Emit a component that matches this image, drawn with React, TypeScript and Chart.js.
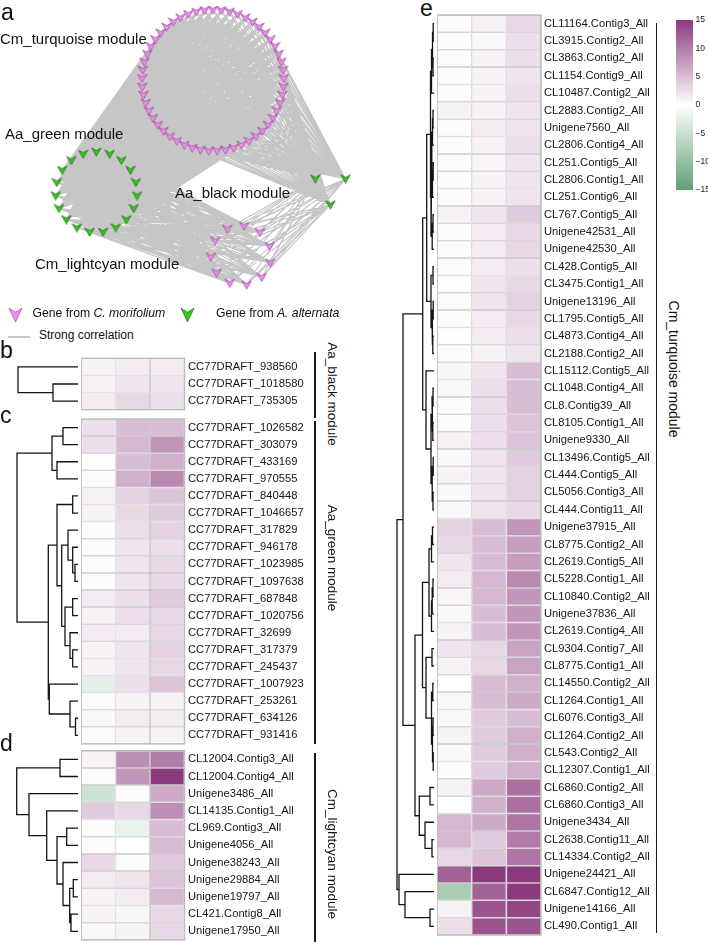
import React, { useEffect, useRef } from "react";
import { Chart, registerables } from "chart.js";
Chart.register(...registerables);

const FONT = "'Liberation Sans', Arial, Helvetica, sans-serif";

// ------------------------------------------------------------------ data
// panel b : Aa_black module
const bGenes = ["CC77DRAFT_938560", "CC77DRAFT_1018580", "CC77DRAFT_735305"];
const bValues = [
  [1, 1.5, 1.5],
  [1, 2, 2],
  [1.5, 3, 2.5],
];
// hclust-style merges: negative = leaf (1-based), positive = earlier merge, third = height
const bTree = [
  [-2, -3, 25],
  [-1, 1, 60],
];

// panel c : Aa_green module
const cGenes = [
  "CC77DRAFT_1026582", "CC77DRAFT_303079", "CC77DRAFT_433169", "CC77DRAFT_970555",
  "CC77DRAFT_840448", "CC77DRAFT_1046657", "CC77DRAFT_317829", "CC77DRAFT_946178",
  "CC77DRAFT_1023985", "CC77DRAFT_1097638", "CC77DRAFT_687848", "CC77DRAFT_1020756",
  "CC77DRAFT_32699", "CC77DRAFT_317379", "CC77DRAFT_245437", "CC77DRAFT_1007923",
  "CC77DRAFT_253261", "CC77DRAFT_634126", "CC77DRAFT_931416",
];
const cValues = [
  [2.5, 5, 5], [2.5, 5.5, 8], [-0.3, 5, 6], [0.3, 6, 9], [1, 3.5, 4.5], [1, 3, 4],
  [0.3, 2.5, 3.5], [0.3, 2, 2.5], [0.3, 2, 3], [0.3, 2, 3], [1.5, 2.5, 4], [1, 2.5, 3],
  [1.5, 1.5, 3], [1, 2, 3.5], [1, 2, 3], [-2.5, 2.5, 4.5], [0.3, 1, 1], [0.5, 1.5, 1.5],
  [0.3, 1, 1],
];
const cTree = [
  [-1, -2, 15], [-3, -4, 21], [1, 2, 26], [-5, -6, 5.3], [-9, -10, 3], [-8, 5, 5.3],
  [-7, 6, 10], [-11, -12, 5.3], [-14, -15, 5.3], [-13, 9, 8], [8, 10, 13], [7, 11, 16.3],
  [4, 12, 21], [-18, -19, 2.5], [-17, 14, 8], [-16, 15, 28.7], [13, 16, 29.7], [3, 17, 61],
];

// panel d : Cm_lightcyan module
const dGenes = [
  "CL12004.Contig3_All", "CL12004.Contig4_All", "Unigene3486_All", "CL14135.Contig1_All",
  "CL969.Contig3_All", "Unigene4056_All", "Unigene38243_All", "Unigene29884_All",
  "Unigene19797_All", "CL421.Contig8_All", "Unigene17950_All",
];
const dValues = [
  [1, 8.5, 10], [0.3, 8, 15], [-4.5, 0.3, 6.5], [4, 3, 8.5], [0.3, -2, 5], [0.3, 0, 5],
  [3, -0.5, 4], [1.5, 2, 4.5], [1, 1.5, 5.5], [1, -1, 3], [0.5, 1, 3],
];
const dTree = [
  [-1, -2, 18], [-5, -6, 11.3], [-8, -9, 4.7], [-10, -11, 7], [3, 4, 8.3], [-7, 5, 15],
  [2, 6, 21], [-4, 7, 31.3], [-3, 8, 49], [1, 9, 61.3],
];

// panel e : Cm_turquoise module
const eGenes = [
  "CL11164.Contig3_All", "CL3915.Contig2_All", "CL3863.Contig2_All", "CL1154.Contig9_All",
  "CL10487.Contig2_All", "CL2883.Contig2_All", "Unigene7560_All", "CL2806.Contig4_All",
  "CL251.Contig5_All", "CL2806.Contig1_All", "CL251.Contig6_All", "CL767.Contig5_All",
  "Unigene42531_All", "Unigene42530_All", "CL428.Contig5_All", "CL3475.Contig1_All",
  "Unigene13196_All", "CL1795.Contig5_All", "CL4873.Contig4_All", "CL2188.Contig2_All",
  "CL15112.Contig5_All", "CL1048.Contig4_All", "CL8.Contig39_All", "CL8105.Contig1_All",
  "Unigene9330_All", "CL13496.Contig5_All", "CL444.Contig5_All", "CL5056.Contig3_All",
  "CL444.Contig11_All", "Unigene37915_All", "CL8775.Contig2_All", "CL2619.Contig5_All",
  "CL5228.Contig1_All", "CL10840.Contig2_All", "Unigene37836_All", "CL2619.Contig4_All",
  "CL9304.Contig7_All", "CL8775.Contig1_All", "CL14550.Contig2_All", "CL1264.Contig1_All",
  "CL6076.Contig3_All", "CL1264.Contig2_All", "CL543.Contig2_All", "CL12307.Contig1_All",
  "CL6860.Contig2_All", "CL6860.Contig3_All", "Unigene3434_All", "CL2638.Contig11_All",
  "CL14334.Contig2_All", "Unigene24421_All", "CL6847.Contig12_All", "Unigene14166_All",
  "CL490.Contig1_All",
];
const eValues = [
  [0.3, 1, 3], [0.3, 0.5, 2.5], [0.3, 1, 2.5], [0.3, 1, 2], [0.3, 1, 2.5], [1, 1, 2],
  [0.3, 1.5, 2], [0.3, 1, 2.5], [0.3, 0.8, 2], [0.3, 1, 2], [0.3, 1, 2], [1, 2, 4],
  [0.3, 1.5, 3], [0.3, 1.5, 3], [0.3, 1.5, 2.5], [-0.3, 2, 3], [-0.5, 2, 3.5], [-0.5, 1.5, 3],
  [-0.3, 1.5, 2.5], [0.3, 1, 2], [-1, 2, 5], [0.5, 2.5, 5], [0.3, 2.5, 5], [0.3, 2.5, 4.5],
  [1, 2.5, 4.5], [0.5, 2, 4], [1, 2, 3.5], [0.5, 2, 3.5], [0.5, 2, 3], [3.5, 5, 8],
  [3, 5, 7.5], [2, 5, 7.5], [1.5, 5.5, 9], [0.8, 5.5, 8], [0.5, 5, 8], [1, 5, 8],
  [2, 3, 7], [1, 3, 7], [0, 5, 6], [0.5, 5, 6.5], [0.5, 4, 5], [1, 4, 6],
  [0.5, 4, 6], [0.3, 4, 6], [1, 6.5, 11], [0, 6, 11], [5.5, 6.5, 10.5], [5.5, 4, 10],
  [3, 4.5, 10.5], [12, 15, 15], [-8, 12, 15], [1, 13, 14], [2.5, 13, 13],
];
const eTree = [
  [-1, -2, 0.8], [-3, -4, 1.0], [1, 2, 1.5], [3, -5, 2.5],
  [-6, -7, 1.0], [5, -8, 1.5], [-9, -10, 0.8], [7, -11, 1.5], [6, 8, 2.2],
  [-12, -13, 1.0], [10, -14, 1.8], [9, 11, 3.0], [4, 12, 3.5],
  [-15, -16, 1.0], [-17, -18, 0.8], [-19, -20, 1.2], [15, 16, 2.0], [14, 17, 3.0], [13, 18, 7.3],
  [-22, -23, 1.0], [-24, -25, 1.2], [20, 21, 2.0], [-26, -27, 0.8], [-28, -29, 1.0], [23, 24, 1.8],
  [22, 25, 3.0], [-21, 26, 8.0], [19, 27, 11.3],
  [-30, -31, 1.5], [29, -32, 2.5], [-33, -34, 1.0], [31, -35, 1.8], [32, -36, 2.5], [30, 33, 5.0],
  [-37, -38, 2.0], [-39, -40, 1.2], [-41, -42, 1.0], [-43, -44, 0.8], [37, 38, 1.5], [36, 39, 2.5],
  [35, 40, 8.0], [34, 41, 11.5],
  [-45, -46, 4.0], [-48, -49, 2.0], [-47, 44, 9.0], [43, 45, 14.7], [42, 46, 19.0], [28, 47, 31.0],
  [-52, -53, 4.0], [-51, 49, 29.0], [-50, 50, 35.0], [48, 51, 37.0],
];

// colour key
const colorTicks = [15, 10, 5, 0, -5, -10, -15];
const colorMin = -15;
const colorMax = 15;

// network (panel a)
const netModules = ["Cm_turquoise", "Aa_green", "Aa_black", "Cm_lightcyan"];
const netModuleGenes: Record<string, string[]> = {
  Cm_turquoise: eGenes,
  Aa_green: cGenes,
  Aa_black: bGenes,
  Cm_lightcyan: dGenes,
};
const netLinks = [
  ["Cm_turquoise", "Aa_green"],
  ["Cm_turquoise", "Aa_black"],
  ["Cm_lightcyan", "Aa_green"],
  ["Cm_lightcyan", "Aa_black"],
];

// ------------------------------------------------------------------ layout / style
const NET_W = 420;
const NET_H = 300;
const NET_LAYOUT: Record<string, { cx: number; cy: number; rx: number; ry: number; start: number }> = {
  Cm_turquoise: { cx: 213, cy: 77.5, rx: 73, ry: 73.5, start: -90 },
  Aa_green: { cx: 93, cy: 194, rx: 42, ry: 42, start: -90 },
  Aa_black: { cx: 334, cy: 189, rx: 18, ry: 18, start: -150 },
  Cm_lightcyan: { cx: 242, cy: 260, rx: 31, ry: 31, start: -117 },
};
const PINK = "#f08ef0";
const PINK_EDGE = "#a04ea0";
const GREEN = "#38c424";
const GREEN_EDGE = "#207a12";
const EDGE_GRAY = "#c6c6c6";
const CELL_BORDER = "#bdbdbd";
const LOW_RGB = [96, 160, 116];
const HIGH_RGB = [140, 58, 126];
const PAD = 14;

function valueColor(v: number): string {
  const t = Math.max(-1, Math.min(1, v / colorMax));
  const end = t >= 0 ? HIGH_RGB : LOW_RGB;
  const a = Math.abs(t);
  const c = end.map((e) => Math.round(255 + (e - 255) * a));
  return `rgb(${c[0]},${c[1]},${c[2]})`;
}

function dendroSegments(tree: number[][]) {
  const pos: { y: number; h: number }[] = [];
  const get = (id: number) => (id < 0 ? { y: -id - 1, h: 0 } : pos[id - 1]);
  const pts: { x: number | null; y: number | null }[] = [];
  tree.forEach(([a, b, h]) => {
    const A = get(a);
    const B = get(b);
    pts.push({ x: A.h, y: A.y }, { x: h, y: A.y }, { x: h, y: B.y }, { x: B.h, y: B.y }, { x: null, y: null });
    pos.push({ y: (A.y + B.y) / 2, h });
  });
  return pts;
}

const framePlugin = {
  id: "frame",
  afterDatasetsDraw(chart: any) {
    const { ctx, chartArea: a } = chart;
    ctx.save();
    ctx.strokeStyle = CELL_BORDER;
    ctx.lineWidth = 1.4;
    ctx.strokeRect(a.left, a.top, a.right - a.left, a.bottom - a.top);
    ctx.restore();
  },
};

function heatConfig(genes: string[], values: number[][], axisW: number, padTop: number, padBottom: number, tickPad: number): any {
  return {
    type: "bar",
    data: {
      labels: genes,
      datasets: [0, 1, 2].map((col) => ({
        label: "sample " + (col + 1),
        data: values.map(() => 1),
        backgroundColor: values.map((r) => valueColor(r[col])),
        borderColor: CELL_BORDER,
        borderWidth: 0.75,
        borderSkipped: false,
        inflateAmount: 0,
        barPercentage: 1,
        categoryPercentage: 1,
      })),
    },
    options: {
      indexAxis: "y",
      responsive: false,
      animation: false,
      events: [],
      layout: { padding: { top: padTop, bottom: padBottom, left: 0, right: 0 } },
      plugins: { legend: { display: false }, tooltip: { enabled: false } },
      scales: {
        x: { stacked: true, display: false, min: 0, max: 3 },
        y: {
          stacked: true,
          position: "right",
          grid: { display: false, drawTicks: false, tickLength: 0 },
          border: { display: false },
          ticks: { autoSkip: false, padding: tickPad, color: "#161616", font: { family: FONT, size: 11.2 } },
          afterFit: (s: any) => {
            s.width = axisW;
          },
        },
      },
    },
    plugins: [framePlugin],
  };
}

function dendroConfig(tree: number[][], n: number, span: number, padTop: number, padBottom: number): any {
  return {
    type: "scatter",
    data: {
      datasets: [
        {
          data: dendroSegments(tree),
          showLine: true,
          spanGaps: false,
          pointRadius: 0,
          borderColor: "#141414",
          borderWidth: 1.3,
          clip: false,
        },
      ],
    },
    options: {
      responsive: false,
      animation: false,
      events: [],
      layout: { padding: { top: padTop, bottom: padBottom, left: 0, right: 0 } },
      plugins: { legend: { display: false }, tooltip: { enabled: false } },
      scales: {
        x: { type: "linear", display: false, min: 0, max: span, reverse: true },
        y: { type: "linear", display: false, min: -0.5, max: n - 0.5, reverse: true },
      },
    },
  };
}

function colorbarConfig(): any {
  return {
    type: "bar",
    data: {
      labels: ["key"],
      datasets: [
        {
          data: [[colorMin, colorMax]],
          borderWidth: 0,
          barPercentage: 1,
          categoryPercentage: 1,
          backgroundColor: (ctx: any) => {
            const chart = ctx.chart;
            const y = chart.scales.y;
            if (!chart.chartArea || !y) return valueColor(0);
            const g = chart.ctx.createLinearGradient(0, y.getPixelForValue(colorMin), 0, y.getPixelForValue(colorMax));
            for (let i = 0; i <= 30; i++) {
              const v = colorMin + ((colorMax - colorMin) * i) / 30;
              g.addColorStop(i / 30, valueColor(v));
            }
            return g;
          },
        },
      ],
    },
    options: {
      responsive: false,
      animation: false,
      events: [],
      layout: { padding: { top: 8, bottom: 8, left: 0, right: 0 } },
      plugins: { legend: { display: false }, tooltip: { enabled: false } },
      scales: {
        x: { display: false },
        y: {
          position: "right",
          min: colorMin,
          max: colorMax,
          grid: { display: false, drawTicks: false, tickLength: 0 },
          border: { display: false },
          afterBuildTicks: (s: any) => {
            s.ticks = colorTicks.map((v) => ({ value: v }));
          },
          ticks: {
            padding: 2.5,
            color: "#222",
            font: { family: FONT, size: 8.5 },
            callback: (v: any) => (Number(v) < 0 ? "\u2212" + Math.abs(Number(v)) : String(v)),
          },
          afterFit: (s: any) => {
            s.width = 30;
          },
        },
      },
    },
  };
}

function makeMarker(fill: string, stroke: string) {
  const c = document.createElement("canvas");
  c.width = 11;
  c.height = 10;
  const g = c.getContext("2d")!;
  g.beginPath();
  g.moveTo(0.8, 1);
  g.lineTo(5.5, 3.6);
  g.lineTo(10.2, 1);
  g.lineTo(5.5, 9.3);
  g.closePath();
  g.fillStyle = fill;
  g.fill();
  g.lineWidth = 0.8;
  g.strokeStyle = stroke;
  g.stroke();
  return c;
}

function nodePositions(mod: string) {
  const L = NET_LAYOUT[mod];
  const n = netModuleGenes[mod].length;
  return netModuleGenes[mod].map((_, i) => {
    const a = ((L.start + (360 * i) / n) * Math.PI) / 180;
    return { x: L.cx + L.rx * Math.cos(a), y: L.cy + L.ry * Math.sin(a) };
  });
}

function networkConfig(): any {
  const pos: Record<string, { x: number; y: number }[]> = {};
  netModules.forEach((m) => (pos[m] = nodePositions(m)));
  const edges: { x: number | null; y: number | null }[] = [];
  netLinks.forEach(([m1, m2]) => {
    pos[m1].forEach((p) => {
      pos[m2].forEach((q) => {
        edges.push(p, q, { x: null, y: null });
      });
    });
  });
  const pinkMarker = makeMarker(PINK, PINK_EDGE);
  const greenMarker = makeMarker(GREEN, GREEN_EDGE);
  const nodeSets = netModules.map((m) => ({
    label: m,
    data: pos[m],
    pointStyle: m.startsWith("Cm") ? pinkMarker : greenMarker,
    pointRadius: 5,
    showLine: false,
    order: 0,
  }));
  return {
    type: "scatter",
    data: {
      datasets: [
        ...nodeSets,
        {
          label: "Strong correlation",
          data: edges,
          showLine: true,
          spanGaps: false,
          pointRadius: 0,
          borderColor: EDGE_GRAY,
          borderWidth: 1.1,
          order: 5,
        },
      ],
    },
    options: {
      responsive: false,
      animation: false,
      events: [],
      layout: { padding: 0 },
      plugins: { legend: { display: false }, tooltip: { enabled: false } },
      scales: {
        x: { type: "linear", display: false, min: 0, max: NET_W },
        y: { type: "linear", display: false, min: 0, max: NET_H, reverse: true },
      },
    },
  };
}

// ------------------------------------------------------------------ components
function ChartCanvas({ left, top, width, height, make }: any) {
  const ref = useRef<HTMLCanvasElement>(null);
  useEffect(() => {
    if (!ref.current) return;
    const chart = new Chart(ref.current, make());
    return () => chart.destroy();
  }, []);
  return (
    <canvas ref={ref} width={width} height={height} style={{ position: "absolute", left, top, width, height }} />
  );
}

function HeatPanel({ genes, values, tree, top, rowH, cellLeft, cellW, canvasW, leafX, span, tickPad }: any) {
  const H = genes.length * rowH;
  const cTop = Math.floor(top - PAD);
  const padTop = top - cTop;
  const cH = Math.ceil(padTop + H + PAD);
  const padBottom = cH - padTop - H;
  return (
    <>
      <ChartCanvas
        left={leafX - span}
        top={cTop}
        width={span}
        height={cH}
        make={() => dendroConfig(tree, genes.length, span, padTop, padBottom)}
      />
      <ChartCanvas
        left={cellLeft}
        top={cTop}
        width={canvasW}
        height={cH}
        make={() => heatConfig(genes, values, canvasW - cellW, padTop, padBottom, tickPad)}
      />
    </>
  );
}

function Txt({ x, base, size, children, style }: any) {
  return (
    <div
      style={{
        position: "absolute",
        left: x,
        top: base - 0.8465 * size,
        fontSize: size,
        lineHeight: `${size}px`,
        whiteSpace: "nowrap",
        color: "#111",
        ...style,
      }}
    >
      {children}
    </div>
  );
}

function VTxt({ bx, cy, size, children }: any) {
  return (
    <div
      style={{
        position: "absolute",
        left: bx + 0.8465 * size,
        top: cy,
        fontSize: size,
        lineHeight: `${size}px`,
        whiteSpace: "nowrap",
        color: "#111",
        transformOrigin: "0 0",
        transform: "rotate(90deg) translateX(-50%)",
      }}
    >
      {children}
    </div>
  );
}

function VLine({ x, y1, y2 }: any) {
  return <div style={{ position: "absolute", left: x - 0.75, top: y1, width: 1.5, height: y2 - y1, background: "#1a1a1a" }} />;
}

function Arrow({ x, y, fill, stroke }: any) {
  return (
    <svg style={{ position: "absolute", left: x, top: y }} width={15} height={16} viewBox="0 0 15 16">
      <polygon points="1,1.2 7.5,5.2 14,1.2 7.5,15" fill={fill} stroke={stroke} strokeWidth={0.7} />
    </svg>
  );
}

export default function App() {
  const italic = { fontStyle: "italic" };
  return (
    <div
      style={{
        position: "absolute",
        left: 0,
        top: 0,
        width: 708,
        height: 942,
        overflow: "hidden",
        background: "#fff",
        fontFamily: FONT,
      }}
    >
      {/* panel a */}
      <ChartCanvas left={0} top={0} width={NET_W} height={NET_H} make={networkConfig} />
      <Txt x={1} base={20} size={23}>a</Txt>
      <Txt x={0} base={44} size={15}>Cm_turquoise module</Txt>
      <Txt x={5} base={139} size={15}>Aa_green module</Txt>
      <Txt x={175} base={197.5} size={15}>Aa_black module</Txt>
      <Txt x={35} base={268.5} size={15}>Cm_lightcyan module</Txt>

      <Arrow x={7.5} y={306.5} fill={PINK} stroke={PINK_EDGE} />
      <Txt x={32.5} base={317} size={12.2}>
        Gene from <span style={italic}>C. morifolium</span>
      </Txt>
      <Arrow x={180} y={306.5} fill={GREEN} stroke={GREEN_EDGE} />
      <Txt x={216} base={317} size={12.2}>
        Gene from <span style={italic}>A. alternata</span>
      </Txt>
      <div style={{ position: "absolute", left: 8, top: 336, width: 22, height: 1.6, background: EDGE_GRAY }} />
      <Txt x={39} base={339.5} size={12}>Strong correlation</Txt>

      {/* panel b */}
      <Txt x={0} base={358} size={23}>b</Txt>
      <HeatPanel genes={bGenes} values={bValues} tree={bTree} top={358.3} rowH={17.13}
        cellLeft={81} cellW={103.5} canvasW={232} leafX={78} span={70} tickPad={3.5} />
      <VLine x={315} y1={352} y2={418} />
      <VTxt bx={327.5} cy={393.5} size={13.5}>Aa_black module</VTxt>

      {/* panel c */}
      <Txt x={0} base={423} size={23}>c</Txt>
      <HeatPanel genes={cGenes} values={cValues} tree={cTree} top={419} rowH={17.1}
        cellLeft={81} cellW={103.5} canvasW={232} leafX={78} span={70} tickPad={3.5} />
      <VLine x={315} y1={420.5} y2={744} />
      <VTxt bx={327.5} cy={557.5} size={13.5}>Aa_green module</VTxt>

      {/* panel d */}
      <Txt x={0} base={751.5} size={23}>d</Txt>
      <HeatPanel genes={dGenes} values={dValues} tree={dTree} top={750.7} rowH={17.2}
        cellLeft={81} cellW={103.5} canvasW={232} leafX={78} span={70} tickPad={3.5} />
      <VLine x={315} y1={753} y2={942} />
      <VTxt bx={327.5} cy={854} size={13.5}>Cm_lightcyan module</VTxt>

      {/* panel e */}
      <Txt x={420} base={16.5} size={23}>e</Txt>
      <HeatPanel genes={eGenes} values={eValues} tree={eTree} top={15} rowH={17.36}
        cellLeft={437} cellW={104} canvasW={218} leafX={434} span={44} tickPad={3} />
      <VLine x={656.5} y1={23} y2={933} />
      <VTxt bx={669} cy={369} size={14}>Cm_turquoise module</VTxt>

      {/* colour key */}
      <ChartCanvas left={676} top={12} width={47} height={186} make={colorbarConfig} />
    </div>
  );
}
